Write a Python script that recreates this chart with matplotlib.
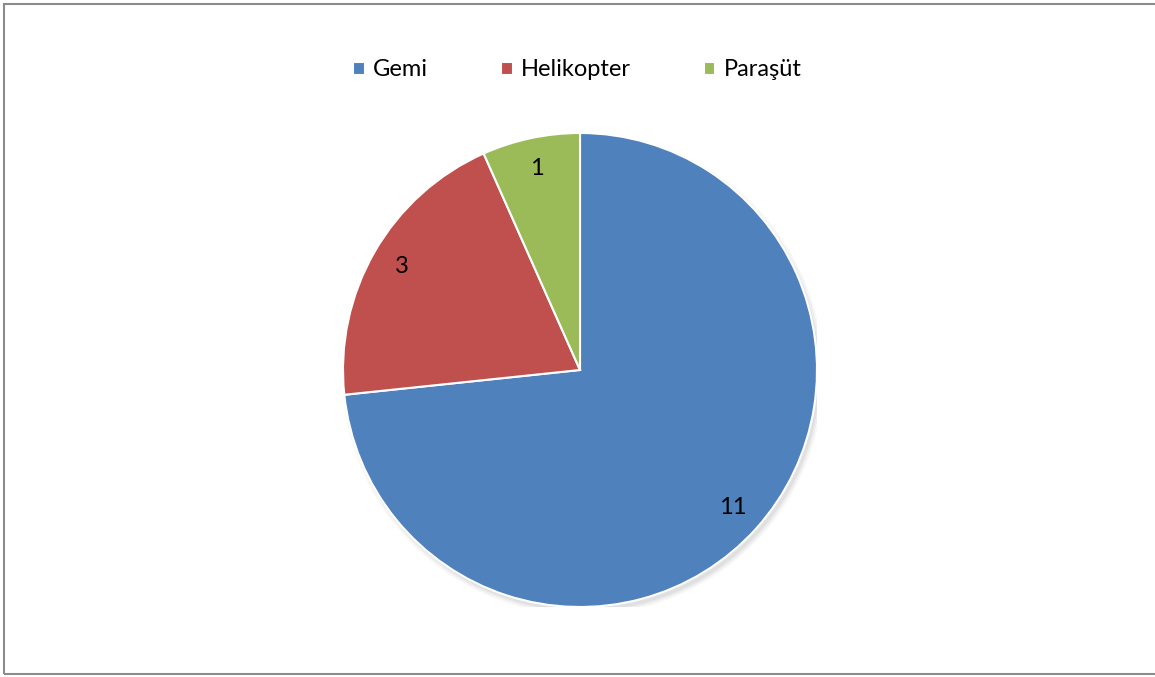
import matplotlib.pyplot as plt
from matplotlib.patches import Rectangle, Circle

# data
labels = ['Gemi', 'Helikopter', 'Paraşüt']
values = [11, 3, 1]
colors = ['#4F81BD', '#C0504D', '#9BBB59']

plt.rcParams['font.family'] = ['Lato', 'DejaVu Sans']

fig = plt.figure(figsize=(11.55, 6.77), dpi=100)

# outer chart border (right edge is cut off in the original)
fig.add_artist(Rectangle((3.5 / 1155, 3.5 / 677), 1250 / 1155, 670 / 677,
                         transform=fig.transFigure, fill=False,
                         edgecolor='#8c8c8c', linewidth=1.5))

ax = fig.add_axes([343 / 1155, 70 / 677, 474 / 1155, 474 / 677])

# soft shadow under the pie
for i, a in enumerate([0.05, 0.04, 0.03]):
    ax.add_patch(Circle((0.012, -0.018), 1.0 + 0.008 * i, color='black',
                        alpha=a, zorder=0, linewidth=0))

wedges, texts, autotexts = ax.pie(
    values, colors=colors, startangle=90, counterclock=False,
    autopct=lambda p: '%d' % round(p * sum(values) / 100),
    pctdistance=0.87, radius=1.0,
    wedgeprops=dict(edgecolor='white', linewidth=1.5),
    textprops=dict(fontsize=17, color='black'))
for w in wedges:
    w.set_zorder(2)
for t in autotexts:
    t.set_zorder(3)

ax.set_xlim(-1, 1)
ax.set_ylim(-1, 1)
ax.set_aspect('equal')
ax.axis('off')

fig.legend(wedges, labels, loc='center', bbox_to_anchor=(0.5, 1 - 70 / 677),
           ncol=3, frameon=False, fontsize=17, handlelength=0.48,
           handleheight=0.48, handletextpad=0.35, columnspacing=3.1)

fig.savefig('out.png', dpi=100)
